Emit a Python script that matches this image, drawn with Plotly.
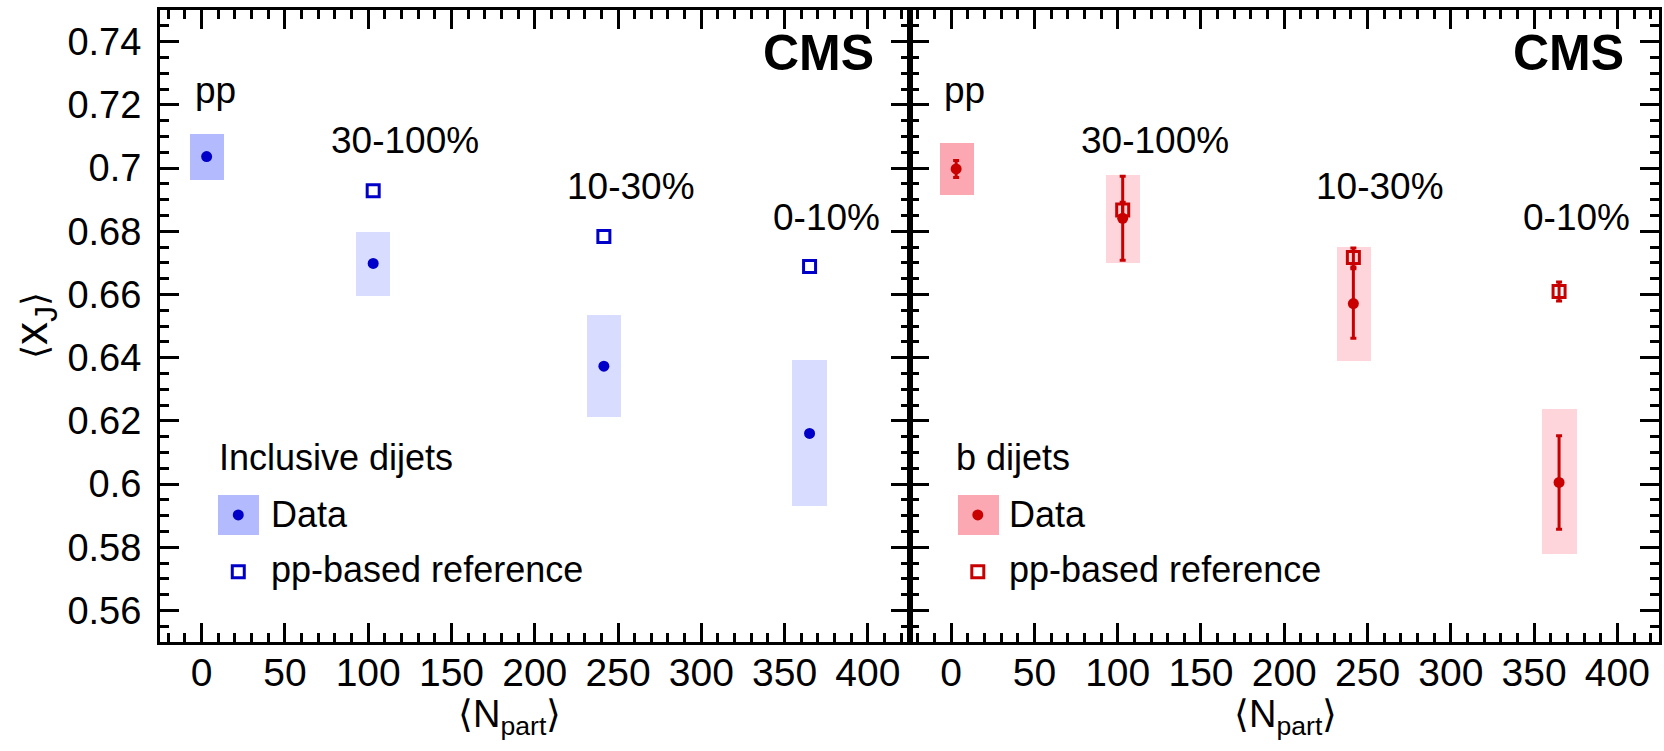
import plotly.graph_objects as go

# ---------------- data ----------------
npart = [3, 103, 241.5, 365]
npart_ref = [103, 241.5, 365]
labels = ["pp", "30-100%", "10-30%", "0-10%"]

# inclusive dijets (left panel)
incl_data = [0.7036, 0.6698, 0.6373, 0.6160]
incl_sys_lo = [0.6962, 0.6596, 0.6213, 0.5931]
incl_sys_hi = [0.7108, 0.6798, 0.6535, 0.6392]
incl_ref = [0.6928, 0.6783, 0.6688]

# b dijets (right panel)
b_data = [0.6997, 0.6841, 0.6571, 0.6005]
b_stat = [0.0027, 0.0133, 0.0110, 0.0148]
b_sys_lo = [0.6915, 0.6698, 0.6390, 0.5778]
b_sys_hi = [0.7078, 0.6978, 0.6749, 0.6237]
b_ref = [0.6867, 0.6717, 0.6609]
b_ref_err = [0.0025, 0.0030, 0.0030]

# label placements (data coords)
lab_x = [-5.4, 76.5, 218, 342]
lab_y = [0.7246, 0.7088, 0.6942, 0.6844]

# ---------------- styles ----------------
FONT = "Liberation Sans, Arial, Helvetica, sans-serif"
BLUE = "#0000c8"
BLUE_BOX = "#d8dcfe"
BLUE_BOX_PP = "#b4bafe"
RED = "#c80000"
RED_BOX = "#fdd5da"
RED_BOX_PP = "#fba8b2"
SYS_W = 20.5

fig = go.Figure()

def panel(xa, ya, data, lo, hi, ref, col, box, boxpp, stat=None, ref_err=None):
    colors = [boxpp] + [box] * (len(npart) - 1)
    fig.add_trace(go.Bar(x=npart, y=[h - l for h, l in zip(hi, lo)], base=lo,
                         width=SYS_W, marker=dict(color=colors, line=dict(width=0)),
                         xaxis=xa, yaxis=ya, showlegend=False, hoverinfo="skip"))
    fig.add_trace(go.Scatter(x=npart_ref, y=ref, mode="markers",
                             marker=dict(symbol="square-open", size=12, color=col,
                                         line=dict(width=3, color=col)),
                             error_y=(dict(type="data", array=ref_err, color=col,
                                           thickness=3, width=3) if ref_err else None),
                             xaxis=xa, yaxis=ya, showlegend=False))
    fig.add_trace(go.Scatter(x=npart, y=data, mode="markers",
                             marker=dict(symbol="circle", size=11, color=col),
                             error_y=(dict(type="data", array=stat, color=col,
                                           thickness=3, width=3) if stat else None),
                             xaxis=xa, yaxis=ya, showlegend=False))

panel("x", "y", incl_data, incl_sys_lo, incl_sys_hi, incl_ref,
      BLUE, BLUE_BOX, BLUE_BOX_PP)
panel("x2", "y2", b_data, b_sys_lo, b_sys_hi, b_ref,
      RED, RED_BOX, RED_BOX_PP, stat=b_stat, ref_err=b_ref_err)

# custom legends
def legend(xa, ya, kx, col, boxpp, title, tx):
    fig.add_trace(go.Bar(x=[kx], y=[0.0126], base=[0.5839], width=24.5,
                         marker=dict(color=boxpp, line=dict(width=0)),
                         xaxis=xa, yaxis=ya, showlegend=False, hoverinfo="skip"))
    fig.add_trace(go.Scatter(x=[kx], y=[0.5902], mode="markers",
                             marker=dict(symbol="circle", size=11, color=col),
                             xaxis=xa, yaxis=ya, showlegend=False))
    fig.add_trace(go.Scatter(x=[kx], y=[0.5722], mode="markers",
                             marker=dict(symbol="square-open", size=12, color=col,
                                         line=dict(width=3, color=col)),
                             xaxis=xa, yaxis=ya, showlegend=False))
    for txt, x, y in [(title, tx[0], 0.6085), ("Data", tx[1], 0.5903),
                      ("pp-based reference", tx[1], 0.5731)]:
        fig.add_annotation(x=x, y=y, xref=xa, yref=ya, text=txt, showarrow=False,
                           xanchor="left", yanchor="middle",
                           font=dict(family=FONT, size=36, color="black"))

legend("x", "y", 22, BLUE, BLUE_BOX_PP, "Inclusive dijets", (9, 40.7))
legend("x2", "y2", 16, RED, RED_BOX_PP, "b dijets", (2, 33.3))

# centrality labels and CMS
for xa, ya in [("x", "y"), ("x2", "y2")]:
    for t, x, y in zip(labels, lab_x, lab_y):
        fig.add_annotation(x=x, y=y, xref=xa, yref=ya, text=t, showarrow=False,
                           xanchor="left", yanchor="middle",
                           font=dict(family=FONT, size=37, color="black"))
    fig.add_annotation(x=405, y=0.7365, xref=xa, yref=ya, text="<b>CMS</b>",
                       showarrow=False, xanchor="right", yanchor="middle",
                       font=dict(family=FONT, size=50, color="black"))

# axis titles
for xa, xc in [("x", 185), ("x2", 200.5)]:
    fig.add_annotation(x=xc, y=-0.118, xref=xa, yref="paper",
                       text="⟨N<sub>part</sub>⟩", showarrow=False,
                       xanchor="center", yanchor="middle",
                       font=dict(family=FONT, size=38, color="black"))
fig.add_annotation(x=-0.084, y=0.5, xref="paper", yref="paper",
                   text="<span style='font-size:36px'>⟨</span>x<sub>J</sub>"
                        "<span style='font-size:36px'>⟩</span>",
                   textangle=-90, showarrow=False,
                   xanchor="center", yanchor="middle",
                   font=dict(family=FONT, size=46, color="black"))

xcommon = dict(range=[-25, 425], dtick=50, tick0=0, ticks="inside", ticklen=19,
               tickwidth=3, tickcolor="black", showline=True, linewidth=3,
               linecolor="black", mirror="allticks", showgrid=False, zeroline=False,
               ticklabelstandoff=-6,
               tickfont=dict(family=FONT, size=39, color="black"),
               minor=dict(dtick=10, tick0=0, ticks="inside", ticklen=9,
                          tickwidth=3, tickcolor="black", showgrid=False))
ycommon = dict(range=[0.55, 0.75], dtick=0.02, tick0=0.56, ticks="inside", ticklen=19,
               tickwidth=3, tickcolor="black", showline=True, linewidth=3,
               linecolor="black", mirror="allticks", showgrid=False, zeroline=False,
               ticklabelstandoff=8,
               tickfont=dict(family=FONT, size=38, color="black"),
               minor=dict(dtick=0.005, tick0=0.55, ticks="inside", ticklen=9,
                          tickwidth=3, tickcolor="black", showgrid=False))

fig.update_layout(
    width=1664, height=751,
    margin=dict(l=160, r=2, t=10, b=109),
    paper_bgcolor="white", plot_bgcolor="white",
    barmode="overlay", bargap=0,
    showlegend=False,
    xaxis=dict(domain=[0, 0.5], anchor="y", **xcommon),
    xaxis2=dict(domain=[0.5, 1.0], anchor="y2", **xcommon),
    yaxis=dict(anchor="x", **ycommon),
    yaxis2=dict(anchor="x2", matches="y", showticklabels=False, **ycommon),
)

fig.write_html("out.html",
               config={"displayModeBar": False},
               post_script="document.body.style.margin='0px';"
                           "document.body.style.overflow='hidden';")
